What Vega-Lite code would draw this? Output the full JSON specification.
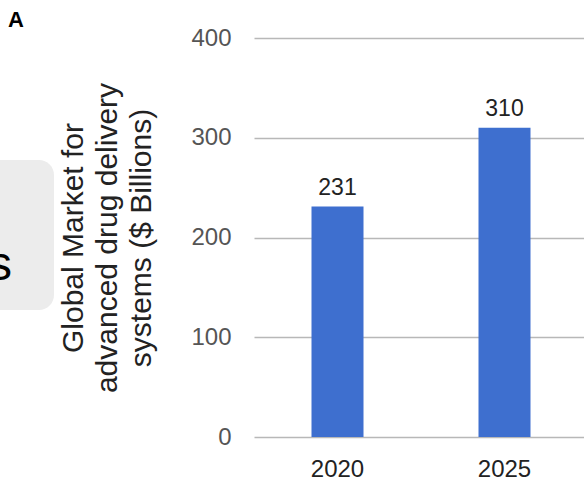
{
  "$schema": "https://vega.github.io/schema/vega-lite/v6.json",
  "width": 334,
  "height": 399,
  "autosize": {"type": "none"},
  "padding": {"left": 254, "top": 38, "right": 0, "bottom": 46},
  "title": {"text": "A", "anchor": "start", "frame": "group", "dx": -246, "offset": -3, "dy": 20, "fontSize": 22, "fontWeight": "bold", "color": "#000000", "baseline": "alphabetic"},
  "config": {"font": "Liberation Sans", "view": {"stroke": null}},
  "layer": [
    {
      "data": {"values": [{"year": "2020", "value": 231}, {"year": "2025", "value": 310}]},
      "encoding": {
        "x": {"field": "year", "type": "nominal", "scale": {"paddingInner": 0, "paddingOuter": 0},
          "axis": {"title": null, "labelAngle": 0, "labelFontSize": 24, "labelColor": "#222222", "labelPadding": 20, "domain": false, "ticks": false}},
        "y": {"field": "value", "type": "quantitative", "scale": {"domain": [0, 400]},
          "axis": {"title": ["Global Market for", "advanced drug delivery", "systems ($ Billions)"], "titleFontSize": 30, "titleFontWeight": "normal", "titleColor": "#222222", "titleLineHeight": 34, "titlePadding": 34,
            "values": [0, 100, 200, 300, 400], "labelFontSize": 24, "labelColor": "#555555", "labelPadding": 23, "domain": false, "ticks": false, "grid": true, "gridColor": "#b8b8b8", "gridWidth": 1.5}}
      },
      "layer": [
        {"mark": {"type": "bar", "size": 52, "color": "#3e6fcf"}},
        {"mark": {"type": "text", "baseline": "alphabetic", "dy": -12, "fontSize": 23, "color": "#222222"}, "encoding": {"text": {"field": "value", "type": "quantitative"}}}
      ]
    },
    {
      "data": {"values": [{"label": "s"}]},
      "layer": [
        {"mark": {"type": "rect", "color": "#ececec", "cornerRadiusTopRight": 15, "cornerRadiusBottomRight": 15},
          "encoding": {
            "x": {"datum": -0.85, "type": "quantitative", "scale": {"domain": [0, 1]}, "axis": null},
            "x2": {"datum": -0.5988},
            "y": {"datum": 277.7, "type": "quantitative", "scale": {"domain": [0, 400]}, "axis": null},
            "y2": {"datum": 127.3}
          }},
        {"mark": {"type": "text", "align": "right", "baseline": "alphabetic", "fontSize": 48, "color": "#000000"},
          "encoding": {
            "x": {"datum": -0.7246, "type": "quantitative", "scale": {"domain": [0, 1]}, "axis": null},
            "y": {"datum": 157.4, "type": "quantitative", "scale": {"domain": [0, 400]}, "axis": null},
            "text": {"field": "label"}
          }}
      ]
    }
  ],
  "resolve": {"scale": {"x": "independent", "y": "independent"}, "axis": {"x": "independent", "y": "independent"}}
}
